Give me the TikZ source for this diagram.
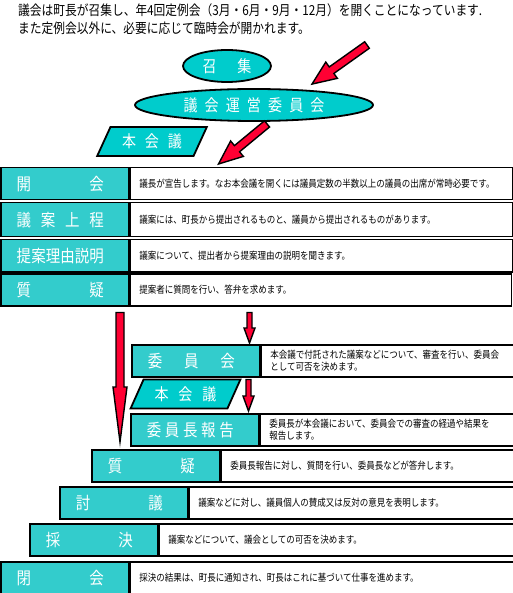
\documentclass[tikz,border=0pt]{standalone}
\usepackage{fontspec}
\setmainfont[FakeStretch=0.85]{Noto Sans CJK JP}
\usetikzlibrary{shapes.geometric,calc}

\definecolor{labelcyan}{RGB}{51,204,204}
\definecolor{ovalcyan}{RGB}{0,204,204}
\definecolor{arrowred}{RGB}{255,0,51}

% characters spread over a fixed width
\newcommand\spread[2]{\makebox[#1][s]{#2}}
\newcommand\labtext[1]{\makebox[128pt][l]{\hspace*{16pt}\spread{87pt}{#1}}}
% fat outlined arrow: from, to, shaft half width, head half width, head length
\newcommand\fatarrow[5]{%
  \coordinate (fa-base) at ($(#2)!#5!(#1)$);
  \draw[redarrow] ($(#1)!#3!90:(#2)$) -- ($(fa-base)!#3!90:(#2)$)
    -- ($(fa-base)!#4!90:(#2)$) -- (#2) -- ($(fa-base)!#4!-90:(#2)$)
    -- ($(fa-base)!#3!-90:(#2)$) -- ($(#1)!#3!-90:(#2)$) -- cycle;}

\begin{document}
\begin{tikzpicture}[x=1pt,y=-1pt,
  redarrow/.style={fill=arrowred,draw=black,line width=1.4pt,line join=miter},
  oval/.style={ellipse,draw=black,line width=1.8pt,fill=ovalcyan,text=white,inner sep=0,
    font=\fontsize{16.5}{16.5}\selectfont},
  slant/.style={trapezium,trapezium left angle=58,trapezium right angle=122,
    trapezium stretches=true,draw=black,line width=1.8pt,fill=ovalcyan,text=white,
    inner sep=0,minimum width=110,minimum height=29,font=\fontsize{16.5}{16.5}\selectfont},
  lab/.style={draw=black,line width=1.5pt,fill=labelcyan,text=white,anchor=north west,
    inner sep=0,minimum width=128,minimum height=32,font=\fontsize{17}{17}\selectfont},
  desc/.style={draw=black,line width=1.5pt,fill=white,anchor=north west,inner xsep=9pt,
    inner ysep=0,minimum height=32,align=left,font=\fontsize{10}{12}\selectfont}]
\useasboundingbox (0,0) rectangle (512,593);

\node[anchor=north west,align=left,inner sep=0,font=\fontsize{13.8}{18}\selectfont] (intro) at (18,3)
  {議会は町長が召集し、年4回定例会（3月・6月・9月・12月）を開くことになっています.\\
   また定例会以外に、必要に応じて臨時会が開かれます。};

\node[oval,minimum width=88,minimum height=32] (shoshu) at (227,66) {\spread{49pt}{召\hfill 集}};
\node[oval,minimum width=238,minimum height=32] (uneikai) at (254,105)
  {\spread{141pt}{議\hfill 会\hfill 運\hfill 営\hfill 委\hfill 員\hfill 会}};
\node[slant] (honkai1) at (152,141.5) {\spread{60pt}{本\hfill 会\hfill 議}};

% rows
\node[lab] (l1) at (0,167) {\labtext{開\hfill 会}};
\node[desc,text width=364pt] (d1) at (l1.north east)
  {議長が宣告します。なお本会議を開くには議員定数の半数以上の議員の出席が常時必要です。};
\node[lab,minimum height=34] (l2) at (0,202) {\labtext{議\hfill 案\hfill 上\hfill 程}};
\node[desc,minimum height=34,text width=364pt] (d2) at (l2.north east)
  {議案には、町長から提出されるものと、議員から提出されるものがあります。};
\node[lab] (l3) at (0,239) {\labtext{提\hfill 案\hfill 理\hfill 由\hfill 説\hfill 明}};
\node[desc,text width=364pt] (d3) at (l3.north east)
  {議案について、提出者から提案理由の説明を聞きます。};
\node[lab] (l4) at (0,273) {\labtext{質\hfill 疑}};
\node[desc,text width=363pt] (d4) at (l4.north east)
  {提案者に質問を行い、答弁を求めます。};

\node[lab] (l5) at (131,344) {\labtext{委\hfill 員\hfill 会}};
\node[desc,text width=234pt] (d5) at (l5.north east)
  {本会議で付託された議案などについて、審査を行い、委員会\\として可否を決めます。};
\node[slant] (honkai2) at (185.5,394) {\spread{62pt}{本\hfill 会\hfill 議}};
\node[lab] (l6) at (130,413) {\labtext{委\hfill 員\hfill 長\hfill 報\hfill 告}};
\node[desc,text width=235pt] (d6) at (l6.north east)
  {委員長が本会議において、委員会での審査の経過や結果を\\報告します。};

\node[lab] (l7) at (91,449) {\labtext{質\hfill 疑}};
\node[desc,text width=275pt] (d7) at (l7.north east)
  {委員長報告に対し、質問を行い、委員長などが答弁します。};
\node[lab] (l8) at (59,486) {\labtext{討\hfill 議}};
\node[desc,text width=306pt] (d8) at (l8.north east)
  {議案などに対し、議員個人の賛成又は反対の意見を表明します。};
\node[lab] (l9) at (29,523) {\labtext{採\hfill 決}};
\node[desc,text width=336pt] (d9) at (l9.north east)
  {議案などについて、議会としての可否を決めます。};
\node[lab] (l10) at (0,561) {\labtext{閉\hfill 会}};
\node[desc,text width=365pt] (d10) at (l10.north east)
  {採決の結果は、町長に通知され、町長はこれに基づいて仕事を進めます。};

% arrows
\coordinate (callin) at (367,45);
\coordinate (calltip) at ([xshift=58pt,yshift=4pt]uneikai.north);
\fatarrow{callin}{calltip}{4pt}{10pt}{24pt}
\coordinate (a2s) at ([xshift=13pt,yshift=-2pt]uneikai.south);
\coordinate (a2e) at ([xshift=89pt,yshift=3pt]d1.north west);
\fatarrow{a2s}{a2e}{4pt}{10pt}{24pt}
\coordinate (a3s) at ([xshift=120pt,yshift=-6pt]l4.south west);
\coordinate (a3e) at ([xshift=29pt,yshift=7pt]l7.north west);
\fatarrow{a3s}{a3e}{4pt}{7pt}{55pt}
\coordinate (a4s) at ([xshift=120pt,yshift=-6pt]d4.south west);
\coordinate (a4e) at ([xshift=-11pt,yshift=1pt]l5.north east);
\fatarrow{a4s}{a4e}{2.5pt}{5.5pt}{15pt}
\coordinate (a5s) at ([xshift=-12pt,yshift=-2pt]l5.south east);
\coordinate (a5e) at ([xshift=-11pt,yshift=2pt]l6.north east);
\fatarrow{a5s}{a5e}{2.5pt}{5.5pt}{15pt}
\end{tikzpicture}
\end{document}
